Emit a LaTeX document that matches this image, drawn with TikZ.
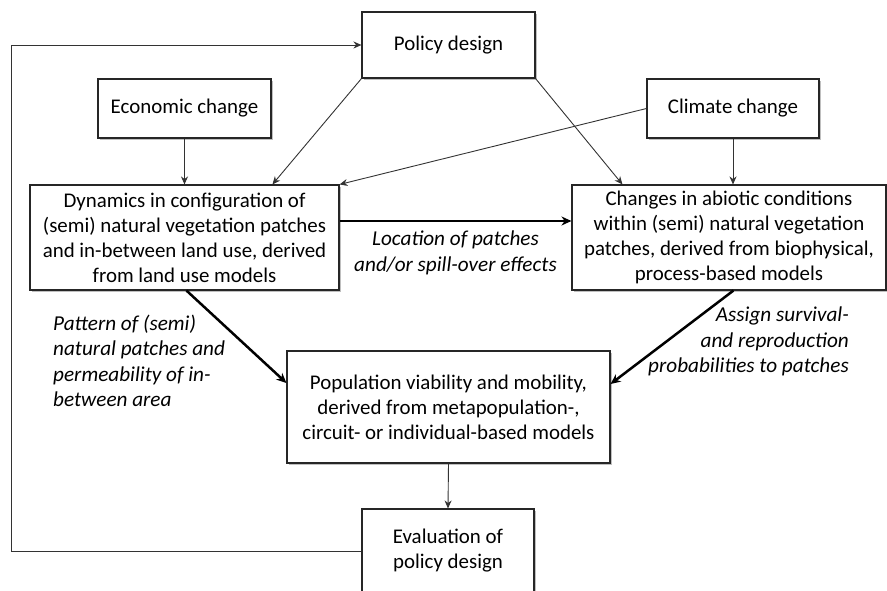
\documentclass[tikz,border=0pt]{standalone}
\usepackage{fontspec}
\setmainfont{Carlito}
\usetikzlibrary{arrows.meta,calc,shadows}
\begin{document}
\begin{tikzpicture}[x=1pt,y=-1pt,
  box/.style={draw=black!85,line width=1.1pt,fill=white,align=center,inner sep=0pt,
    font=\fontsize{20.9}{25}\selectfont,
    drop shadow={shadow xshift=2pt,shadow yshift=-2pt,fill=black,opacity=0.25}},
  thin/.style={draw=black!80,line width=0.9pt,-{Stealth[length=8pt,width=7pt]}},
  thick/.style={draw=black,line width=2.5pt,-{Stealth[length=10pt,width=9pt]}},
  lbl/.style={font=\fontsize{21.2}{25.5}\selectfont\itshape,inner sep=0pt}]
\useasboundingbox (0,0) rectangle (887,591);

% boxes
\node[box,minimum width=173pt,minimum height=66pt] (policy) at (448.5,45) {Policy design};
\node[box,minimum width=173pt,minimum height=59pt] (econ) at (184.5,108.5) {Economic change};
\node[box,minimum width=172pt,minimum height=59pt] (climate) at (733,108.5) {Climate change};
\node[box,minimum width=309pt,minimum height=105pt] (dyn) at (184.5,237.5)
  {Dynamics in configuration of\\(semi) natural vegetation patches\\and in-between land use, derived\\from land use models};
\node[box,minimum width=314pt,minimum height=105pt] (chg) at (729,237.5)
  {Changes in abiotic conditions\\within (semi) natural vegetation\\patches, derived from biophysical,\\process-based models};
\node[box,minimum width=323pt,minimum height=112pt] (pop) at (448.5,407)
  {Population viability and mobility,\\derived from metapopulation-,\\circuit- or individual-based models};
\node[box,minimum width=172pt,minimum height=84pt] (eval) at (448,551)
  {Evaluation of\\policy design};

% thin influence arrows
\draw[thin] (econ.south) -- (dyn.north);
\draw[thin] (policy.south west) -- ($(dyn.north west)+(243,0)$);
\draw[thin] (policy.south east) -- ($(chg.north west)+(51,0)$);
\draw[thin] (climate.west) -- (dyn.north east);
\draw[thin] (climate.south) -- (climate.south |- chg.north);
\draw[thin] (pop.south) -- (eval.north);

% feedback loop
\draw[thin] (eval.west) -- ++(-350,0) |- (policy.west);

% thick model-coupling arrows
\draw[thick] ($(dyn.east)+(0,-16.5)$) -- ($(chg.west)+(0,-16.5)$);
\draw[thick] ($(dyn.south west)+(157,0)$) -- ($(pop.west)+(0,-24)$);
\draw[thick] ($(chg.south west)+(162,0)$) -- ($(pop.east)+(0,-23)$);

% link labels
\node[lbl,align=center] (lloc) at (455.5,253) {Location of patches\\and/or spill-over effects};
\node[lbl,align=left,anchor=west] (lpat) at (53,361) {Pattern of (semi)\\natural patches and\\permeability of in-\\between area};
\node[lbl,align=right,anchor=east] (lass) at (849,341.5) {Assign survival-\\and reproduction\\probabilities to patches};
\end{tikzpicture}
\end{document}
